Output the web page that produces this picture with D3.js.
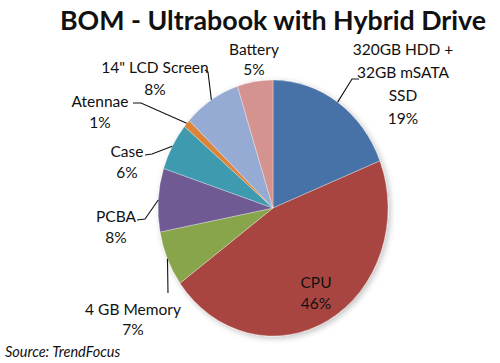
<!DOCTYPE html>
<html>
<head>
<meta charset="utf-8">
<script src="https://cdn.jsdelivr.net/npm/d3@7"></script>
<style>
  body { margin: 0; background: #fff; }
  svg text { font-family: Lato, "Open Sans", sans-serif; fill: #111; }
</style>
</head>
<body>
<script>
// chart data
var categories = ["320GB HDD + 32GB mSATA SSD", "CPU", "4 GB Memory", "PCBA", "Case", "Atennae", "14\" LCD Screen", "Battery"];
var values = [19, 46, 7, 8, 6, 1, 8, 5];
var labelLines = [
  ["320GB HDD +", "32GB mSATA", "SSD", "19%"],
  ["CPU", "46%"],
  ["4 GB Memory", "7%"],
  ["PCBA", "8%"],
  ["Case", "6%"],
  ["Atennae", "1%"],
  ["14\" LCD Screen", "8%"],
  ["Battery", "5%"]
];
var colors = ["#4672a8", "#a9443f", "#88a54c", "#705a93", "#3d9aaf", "#dd843a", "#96abd4", "#d59390"];

var width = 500, height = 363;
var cx = 273, cy = 208, rx = 115, ry = 128;

var svg = d3.select("body").append("svg")
  .attr("width", width)
  .attr("height", height);

// soft shadow under the pie
var defs = svg.append("defs");
var f = defs.append("filter").attr("id", "shadow")
  .attr("x", "-20%").attr("y", "-20%").attr("width", "140%").attr("height", "140%");
f.append("feGaussianBlur").attr("in", "SourceAlpha").attr("stdDeviation", 3);
f.append("feOffset").attr("dx", 2).attr("dy", 2).attr("result", "b");
f.append("feComponentTransfer").append("feFuncA").attr("type", "linear").attr("slope", 0.25);
var m = f.append("feMerge");
m.append("feMergeNode");
m.append("feMergeNode").attr("in", "SourceGraphic");

//title
svg.append("text")
  .attr("x", 273).attr("y", 30)
  .attr("text-anchor", "middle")
  .attr("font-size", 27)
  .attr("font-weight", "bold")
  .attr("textLength", 426)
  .attr("lengthAdjust", "spacingAndGlyphs")
  .text("BOM - Ultrabook with Hybrid Drive");

var pie = d3.pie().sort(null).value(d => d)(values);
var arc = d3.arc().innerRadius(0).outerRadius(rx);

// pie drawn as a circle and stretched vertically
svg.append("g")
  .attr("transform", "translate(" + cx + "," + cy + ") scale(1," + (ry / rx) + ")")
  .attr("filter", "url(#shadow)")
  .selectAll("path")
  .data(pie)
  .enter().append("path")
    .attr("d", arc)
    .attr("fill", (d, i) => colors[i])
    .attr("stroke", "rgba(255,255,255,0.5)")
    .attr("stroke-width", 0.6);

// edge point of each slice at its middle angle
function edgePoint(d) {
  var a = (d.startAngle + d.endAngle) / 2;
  return [cx + rx * Math.sin(a), cy - ry * Math.cos(a)];
}

// label layout: anchor position, line height, leader elbow points
var layout = [
  {x: 403, y: 55, dy: 23, leader: [[352, 79], [359, 79]]},
  {x: 316, y: 288, dy: 21, leader: null},
  {x: 133, y: 315, dy: 20, leader: [[168, 293]]},
  {x: 116, y: 222, dy: 21, leader: [[145, 219], [137, 220]]},
  {x: 127, y: 157, dy: 21, leader: [[152, 154], [145, 155]]},
  {x: 100, y: 107, dy: 21, leader: [[141, 103], [133, 103]]},
  {x: 155, y: 73, dy: 22, leader: [[208, 72], [205, 70]]},
  {x: 254, y: 55, dy: 20, leader: null}
];

var line = d3.line();
pie.forEach(function(d, i) {
  var L = layout[i];
  if (L.leader) {
    svg.append("path")
      .attr("d", line([edgePoint(d)].concat(L.leader)))
      .attr("fill", "none")
      .attr("stroke", "#111")
      .attr("stroke-width", 1.1);
  }
  var t = svg.append("text")
    .attr("text-anchor", "middle")
    .attr("font-size", 15.5);
  labelLines[i].forEach(function(s, j) {
    t.append("tspan").attr("x", L.x).attr("y", L.y + j * L.dy).text(s);
  });
});

// source note
svg.append("text")
  .attr("x", 5).attr("y", 357)
  .attr("font-size", 14.5)
  .attr("font-style", "italic")
  .text("Source: TrendFocus");
</script>
</body>
</html>
